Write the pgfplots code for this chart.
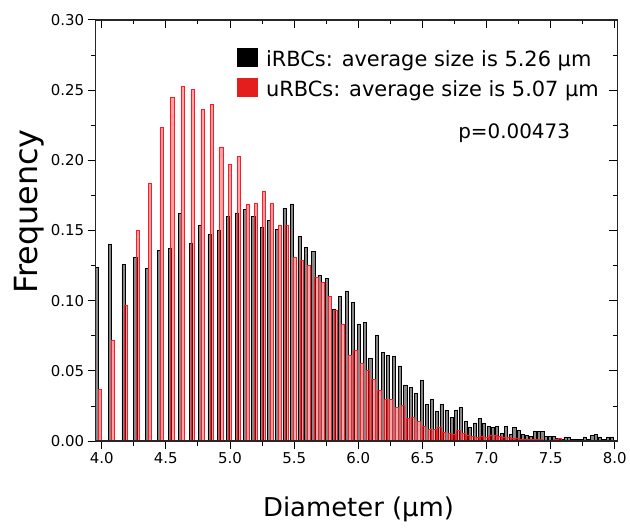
\documentclass[border=0pt]{standalone}
\usepackage{pgfplots}
\pgfplotsset{compat=1.18}
\usepackage{fontspec}
\setmainfont{DejaVu Sans}
\definecolor{barred}{RGB}{255,25,35}
\definecolor{legred}{RGB}{228,30,28}
\definecolor{bargray}{RGB}{135,135,135}

\pgfplotstableread{
x y
3.960 0.124
4.065 0.140
4.169 0.126
4.262 0.131
4.352 0.123
4.443 0.136
4.530 0.137
4.610 0.162
4.694 0.141
4.767 0.154
4.840 0.147
4.912 0.150
4.986 0.160
5.052 0.1625
5.117 0.165
5.182 0.160
5.246 0.152
5.304 0.157
5.366 0.151
5.425 0.166
5.485 0.169
5.542 0.146
5.594 0.138
5.650 0.135
5.703 0.118
5.757 0.116
5.806 0.094
5.857 0.103
5.910 0.107
5.956 0.099
6.007 0.0835
6.053 0.0844
6.094 0.059
6.146 0.075
6.193 0.063
6.234 0.061
6.278 0.0606
6.323 0.0536
6.367 0.040
6.411 0.038
6.452 0.034
6.494 0.043
6.535 0.026
6.575 0.030
6.612 0.021
6.649 0.026
6.688 0.022
6.727 0.017
6.760 0.022
6.800 0.024
6.838 0.014
6.870 0.010
6.910 0.013
6.945 0.016
6.978 0.0125
7.015 0.0104
7.050 0.0097
7.080 0.0104
7.118 0.0052
7.150 0.0104
7.186 0.0045
7.217 0.0099
7.253 0.0078
7.285 0.0045
7.315 0.004
7.345 0.0035
7.375 0.0069
7.405 0.0069
7.435 0.0069
7.465 0.0035
7.495 0.0035
7.525 0.0035
7.555 0.002
7.585 0.0015
7.615 0.003
7.645 0.003
7.675 0.001
7.705 0.0015
7.735 0.001
7.765 0.003
7.795 0.0015
7.825 0.004
7.855 0.0045
7.885 0.003
7.915 0.001
7.945 0.003
7.975 0.003
}\iRBC

\pgfplotstableread{
x y
3.985 0.0368
4.085 0.072
4.187 0.097
4.280 0.150
4.373 0.1835
4.466 0.2234
4.550 0.245
4.632 0.2527
4.710 0.2508
4.785 0.236
4.861 0.2397
4.932 0.2095
5.000 0.197
5.070 0.203
5.137 0.169
5.203 0.1694
5.265 0.1776
5.327 0.1696
5.390 0.1536
5.444 0.1538
5.506 0.131
5.557 0.129
5.615 0.1255
5.673 0.117
5.726 0.113
5.778 0.1035
5.828 0.0929
5.877 0.0835
5.935 0.061
5.977 0.0646
6.027 0.0552
6.074 0.0505
6.117 0.0437
6.164 0.0363
6.212 0.030
6.255 0.0297
6.300 0.0243
6.347 0.0255
6.388 0.0163
6.426 0.017
6.470 0.014
6.512 0.0106
6.556 0.0083
6.597 0.0083
6.632 0.0097
6.670 0.0064
6.710 0.0054
6.745 0.005
6.780 0.0078
6.820 0.0059
6.855 0.0045
6.890 0.0033
6.930 0.0026
6.965 0.0035
7.000 0.003
7.035 0.0045
7.070 0.004
7.100 0.0035
7.135 0.0026
7.170 0.003
7.205 0.0021
7.240 0.002
7.270 0.0015
7.300 0.0015
7.330 0.001
7.360 0.0015
7.390 0.001
7.420 0.001
7.450 0.0008
7.480 0.0008
7.510 0.0008
7.540 0.001
7.570 0.002
7.600 0.0008
7.630 0.0005
7.660 0.0005
7.690 0.0005
7.720 0.0005
7.750 0.0005
7.780 0.0008
7.810 0.0005
7.840 0.0005
7.870 0.0005
7.900 0.0003
7.930 0.0005
7.960 0.0005
}\uRBC

\begin{document}
\begin{tikzpicture}
\pgfplotsset{
  common/.style={
    width=524pt, height=423pt, scale only axis,
    xmin=3.952, xmax=8.02, ymin=0, ymax=0.30,
    xtick={4,4.5,5,5.5,6,6.5,7,7.5,8},
    ytick={0,0.05,0.10,0.15,0.20,0.25,0.30},
    minor x tick num=1, minor y tick num=1,
    axis line style={line width=1.3pt, black!85},
    major tick length=8pt, minor tick length=4.5pt,
    every tick/.style={black, line width=1pt},
  }
}
\begin{axis}[common,
    clip=false,
    tick align=outside,
    xtick pos=left, ytick pos=left,
    /pgf/number format/assume math mode=true,
    tick label style={font=\fontsize{15}{17}\selectfont},
    xticklabel style={/pgf/number format/.cd, fixed, fixed zerofill, precision=1},
    yticklabel style={/pgf/number format/.cd, fixed, fixed zerofill, precision=2},
    xlabel={Diameter (µm)},
    ylabel={Frequency},
    xlabel style={font=\fontsize{26}{30}\selectfont, at={(axis description cs:0.504,-0.163)}, anchor=center},
    ylabel style={font=\fontsize{32}{36}\selectfont, at={(axis description cs:-0.128,0.545)}, anchor=center},
]
\addplot[ybar, bar width=0.024, bar shift=0pt, draw=black, fill=bargray, line width=0.7pt]
  table[x=x,y=y] {\iRBC};
\addplot[ybar, bar width=0.024, bar shift=0pt, draw=barred, fill=barred, fill opacity=0.4, line width=0.6pt]
  table[x=x,y=y] {\uRBC};

\fill[black] (axis description cs:0.271,0.934) rectangle (axis description cs:0.311,0.889);
\fill[legred] (axis description cs:0.271,0.863) rectangle (axis description cs:0.311,0.816);
\node[anchor=base west, inner sep=0pt, font=\fontsize{21}{25}\selectfont] at (axis description cs:0.3263,0.8896) {iRBCs: average size is 5.26 µm};
\node[anchor=base west, inner sep=0pt, font=\fontsize{21}{25}\selectfont] at (axis description cs:0.3263,0.818) {uRBCs: average size is 5.07 µm};
\node[anchor=base west, inner sep=0pt, font=\fontsize{20}{24}\selectfont] at (axis description cs:0.6947,0.7187) {p=0.00473};
\path (axis description cs:-0.1832,-0.2128) rectangle (axis description cs:1.0191,1.0473);
\end{axis}
\begin{axis}[common,
    tick align=inside,
    xtick pos=right, ytick pos=right,
    xticklabels={}, yticklabels={},
]
\end{axis}
\end{tikzpicture}
\end{document}
